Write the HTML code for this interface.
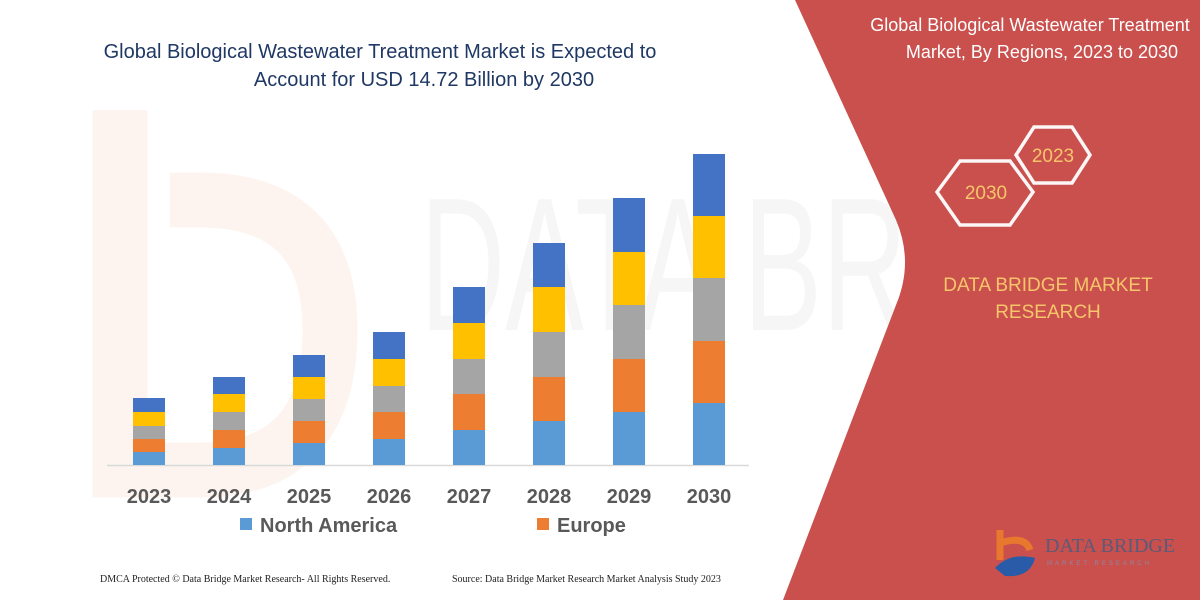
<!DOCTYPE html>
<html><head><meta charset="utf-8"><style>
body{margin:0;width:1200px;height:600px;overflow:hidden;background:#fff;font-family:"Liberation Sans",sans-serif}
</style></head><body>
<svg width="1200" height="600" viewBox="0 0 1200 600" xmlns="http://www.w3.org/2000/svg">
<rect width="1200" height="600" fill="#fff"/>
<text x="420" y="330" font-size="190" fill="#f6f6f6" font-family="Liberation Sans" textLength="520" lengthAdjust="spacingAndGlyphs">DATA BRI</text>
<path d="M120 110 L120 470 L200 470 Q330 470 330 330 Q330 200 200 200 L170 200" fill="none" stroke="#fdf4ef" stroke-width="55"/>
<path d="M795 0 L1200 0 L1200 600 L783 600 L896 305 Q914 262 896 220 Z" fill="#C9504D"/>
<text x="1030" y="31" font-size="18" fill="#fff" text-anchor="middle">Global Biological Wastewater Treatment</text>
<text x="1042" y="58" font-size="18" fill="#fff" text-anchor="middle">Market, By Regions, 2023 to 2030</text>
<polygon points="1016,155 1034,127 1072,127 1090,155 1072,183 1034,183" fill="none" stroke="#fff" stroke-width="3.5" opacity="0.95"/>
<polygon points="937,192 960,161 1010,161 1033,192 1010,225 960,225" fill="none" stroke="#fff" stroke-width="3.5" opacity="0.95"/>
<text x="1053" y="162" font-size="19" fill="#F7C56A" text-anchor="middle">2023</text>
<text x="986" y="199" font-size="19" fill="#F7C56A" text-anchor="middle">2030</text>
<text x="1048" y="291" font-size="19" fill="#F7C56A" text-anchor="middle">DATA BRIDGE MARKET</text>
<text x="1048" y="318" font-size="19" fill="#F7C56A" text-anchor="middle">RESEARCH</text>
<path d="M1000 530 L1000 560 M1000 543 Q1025 535 1030 550" fill="none" stroke="#E8782E" stroke-width="7"/>
<path d="M995 568 Q1010 552 1035 558 Q1030 578 1005 576 Z" fill="#2A5BA8"/>
<text x="1045" y="552" font-size="20" fill="#5a5a7a" font-family="Liberation Serif">DATA BRIDGE</text>
<text x="1047" y="565" font-size="6" fill="#8a8aa0" letter-spacing="3">MARKET RESEARCH</text>
<text x="380" y="58" font-size="20" fill="#1F3864" text-anchor="middle">Global Biological Wastewater Treatment Market is Expected to</text>
<text x="424" y="86" font-size="20" fill="#1F3864" text-anchor="middle">Account for USD 14.72 Billion by 2030</text>
<line x1="107" y1="465.5" x2="749" y2="465.5" stroke="#d9d9d9" stroke-width="1.5"/>
<g id="bars"></g>
<g font-size="20" font-weight="bold" fill="#595959" text-anchor="middle">
<text x="149" y="503">2023</text><text x="229" y="503">2024</text><text x="309" y="503">2025</text><text x="389" y="503">2026</text><text x="469" y="503">2027</text><text x="549" y="503">2028</text><text x="629" y="503">2029</text><text x="709" y="503">2030</text>
</g>
<rect x="240" y="518" width="12" height="12" fill="#5B9BD5"/>
<text x="260" y="532" font-size="20" font-weight="bold" fill="#595959">North America</text>
<rect x="537" y="518" width="12" height="12" fill="#ED7D31"/>
<text x="557" y="532" font-size="20" font-weight="bold" fill="#595959">Europe</text>
<text x="100" y="582" font-size="10" fill="#222" font-family="Liberation Serif">DMCA Protected © Data Bridge Market Research-  All Rights Reserved.</text>
<text x="452" y="582" font-size="10" fill="#222" font-family="Liberation Serif">Source: Data Bridge Market Research  Market Analysis Study 2023</text>
</svg>
<script>
var d=[[398,412,426,439,452],[377,394,412,430,448],[355,377,399,421,443],[332,359,386,412,439],[287,323,359,394,430],[243,287,332,377,421],[198,252,305,359,412],[154,216,278,341,403]];
var c=["#4472C4","#FFC000","#A5A5A5","#ED7D31","#5B9BD5"];var g=document.getElementById("bars");var s="";
d.forEach(function(b,i){var x=133+80*i;for(var k=0;k<5;k++){var y1=b[k],y2=k<4?b[k+1]:465;s+='<rect x="'+x+'" y="'+y1+'" width="32" height="'+(y2-y1)+'" fill="'+c[k]+'"/>';}});
g.innerHTML=s;
</script>
</body></html>
